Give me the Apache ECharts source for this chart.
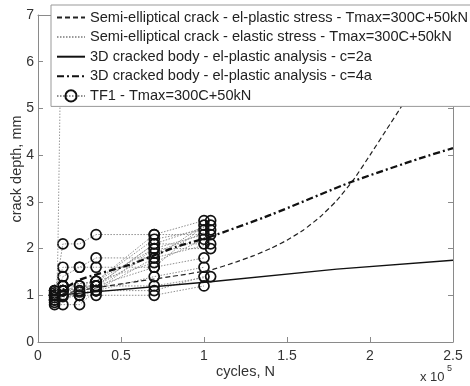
<!DOCTYPE html>
<html>
<head>
<meta charset="utf-8">
<script src="https://cdn.jsdelivr.net/npm/echarts@6/dist/echarts.min.js"></script>
<style>
html, body { margin: 0; padding: 0; background: #fff; }
#chart { width: 470px; height: 386px; }
</style>
</head>
<body>
<div id="chart"></div>
<script>
// Cycles are in units of 1e5, crack depth in mm.
const xTicks = [0, 0.5, 1, 1.5, 2, 2.5];
const yTicks = [0, 1, 2, 3, 4, 5, 6, 7];

const nameSemiPlastic = 'Semi-elliptical crack - el-plastic stress - Tmax=300C+50kN';
const nameSemiElastic = 'Semi-elliptical crack - elastic stress - Tmax=300C+50kN';
const name3D2a = '3D cracked body - el-plastic analysis - c=2a';
const name3D4a = '3D cracked body - el-plastic analysis - c=4a';
const nameTF1 = 'TF1 - Tmax=300C+50kN';

// Semi-elliptical crack, el-plastic stress
const semiPlasticX = [0.1, 0.3, 0.55, 0.8, 1.04, 1.2, 1.3, 1.4, 1.5, 1.6, 1.7, 1.8, 1.9, 2.0, 2.1, 2.2, 2.3, 2.4, 2.5];
const semiPlasticY = [1.0, 1.13, 1.27, 1.4, 1.54, 1.72, 1.85, 2.0, 2.18, 2.4, 2.68, 3.03, 3.47, 4.0, 4.55, 5.1, 5.7, 6.35, 7.0];

// Semi-elliptical crack, elastic stress
const semiElasticX = [0.1, 0.114, 0.12, 0.126, 0.133, 0.137];
const semiElasticY = [0.95, 1.1, 2.0, 3.5, 5.2, 7.0];

// 3D cracked body, c=2a
const body2aX = [0.1, 1.04, 1.8, 2.5];
const body2aY = [1.0, 1.29, 1.56, 1.75];

// 3D cracked body, c=4a
const body4aX = [0.1, 0.25, 0.55, 0.835, 1.036, 1.4, 1.89, 2.3, 2.5];
const body4aY = [1.0, 1.33, 1.65, 2.04, 2.25, 2.72, 3.43, 3.93, 4.15];

// TF1 test specimens: measured cycles and depths per specimen
const tf1Cycles = [
  [0.1, 0.15, 0.25, 0.35, 0.7, 1.0],
  [0.1, 0.15, 0.25, 0.35, 0.7, 1.04],
  [0.1, 0.15, 0.25, 0.35, 0.7, 1.0],
  [0.1, 0.15, 0.25, 0.35, 0.7, 1.0],
  [0.1, 0.15, 0.25, 0.35, 0.7, 1.04],
  [0.1, 0.15, 0.25, 0.35, 0.7, 1.0],
  [0.1, 0.15, 0.25, 0.35, 0.7, 1.0],
  [0.1, 0.15, 0.25, 0.35, 0.7, 1.04],
  [0.1, 0.15, 0.25, 0.35, 0.7, 1.0],
  [0.1, 0.15, 0.25, 0.35, 0.7, 1.0],
  [0.1, 0.15, 0.35, 0.7, 1.04],
  [0.1, 0.15, 0.35, 0.7, 1.0],
  [0.1, 0.15, 0.35, 0.7, 1.0],
  [0.1, 0.25, 0.35, 0.7, 1.04],
  [0.1, 0.15, 0.35, 0.7, 1.04],
  [0.1, 0.15, 0.35, 0.7, 1.04],
  [0.1, 0.15, 0.35, 0.7, 1.0]
];
const tf1Depths = [
  [1.0, 2.1, 2.1, 2.3, 2.3, 2.6],
  [1.1, 1.6, 1.6, 1.8, 1.8, 2.6],
  [0.9, 1.4, 1.6, 1.6, 1.6, 2.5],
  [1.0, 1.2, 1.2, 1.3, 2.2, 2.4],
  [1.1, 1.1, 1.1, 1.2, 2.1, 2.5],
  [0.8, 0.8, 0.8, 1.1, 2.0, 2.3],
  [0.9, 0.97, 1.0, 1.0, 1.0, 1.2],
  [1.0, 1.1, 1.2, 1.2, 1.9, 2.4],
  [1.05, 1.2, 1.07, 1.3, 1.7, 2.2],
  [0.85, 1.0, 1.0, 1.1, 1.4, 1.6],
  [1.0, 1.1, 1.2, 1.2, 1.4],
  [0.95, 1.0, 1.1, 1.1, 1.4],
  [1.0, 1.1, 1.2, 1.6, 1.8],
  [0.9, 1.0, 1.1, 1.8, 2.1],
  [1.0, 1.2, 1.3, 2.0, 2.0],
  [1.1, 1.2, 1.3, 2.3, 2.3],
  [1.0, 1.1, 1.2, 2.1, 2.1]
];

const zip = (xs, ys) => xs.map((x, i) => [x, ys[i]]);

const FONT = 'Liberation Sans, Arial, sans-serif';
const TEXT = '#333';
const AXIS_GRAY = '#8a8a8a';

const series = [];
tf1Cycles.forEach((xs, i) => {
  series.push({
    name: nameTF1,
    type: 'line',
    data: zip(xs, tf1Depths[i]),
    symbol: 'circle',
    symbolSize: 10,
    showAllSymbol: true,
    lineStyle: { color: '#8f8f8f', width: 1, type: [1.5, 1.5] },
    itemStyle: { color: 'rgba(255,255,255,0)', borderColor: '#111', borderWidth: 1.7 },
    emphasis: { disabled: true },
    z: 2
  });
});

function modelCurve(name, xs, ys, lineStyle, smooth) {
  return {
    name, type: 'line', data: zip(xs, ys),
    symbol: 'none', showSymbol: false, smooth: smooth || false,
    lineStyle, itemStyle: { color: lineStyle.color },
    emphasis: { disabled: true }, z: 3
  };
}
series.push(modelCurve(nameSemiElastic, semiElasticX, semiElasticY,
  { color: '#9a9a9a', width: 1, type: [1.5, 1.5] }));
series.push(modelCurve(nameSemiPlastic, semiPlasticX, semiPlasticY,
  { color: '#222', width: 1.2, type: [5, 3] }, 0.15));
series.push(modelCurve(name3D2a, body2aX, body2aY,
  { color: '#111', width: 1.3, type: 'solid' }));
series.push(modelCurve(name3D4a, body4aX, body4aY,
  { color: '#111', width: 2.3, type: [7, 3, 2, 3] }, 0.2));

// legend entries of the model curves show the line only
const lineOnly = { opacity: 0, borderWidth: 0 };

const axisCommon = {
  axisLine: { show: true, onZero: false, lineStyle: { color: AXIS_GRAY, width: 1 } },
  axisTick: { show: true, inside: true, length: 5, lineStyle: { color: AXIS_GRAY } },
  splitLine: { show: false }
};

const chart = echarts.init(document.getElementById('chart'), null, { renderer: 'canvas' });
chart.setOption({
  backgroundColor: '#fff',
  animation: false,
  grid: { left: 38, right: 17, top: 15, bottom: 44, containLabel: false, outerBoundsMode: 'none' },
  legend: {
    data: [
      { name: nameSemiPlastic, itemStyle: lineOnly },
      { name: nameSemiElastic, itemStyle: lineOnly },
      { name: name3D2a, itemStyle: lineOnly },
      { name: name3D4a, itemStyle: lineOnly },
      { name: nameTF1 }
    ],
    orient: 'vertical',
    left: 51, top: 5,
    padding: [5, 4, 3, 5],
    itemWidth: 28, itemHeight: 14, itemGap: 4.6,
    backgroundColor: '#fff',
    borderColor: '#999', borderWidth: 1,
    textStyle: { fontFamily: FONT, fontSize: 14.6, color: '#222', lineHeight: 14 },
    selectedMode: false,
    z: 10
  },
  xAxis: [
    Object.assign({
      type: 'value', position: 'bottom', min: 0, max: 2.5, interval: 0.5,
      axisLabel: { margin: 7, fontFamily: FONT, fontSize: 14, color: TEXT,
        formatter: v => xTicks.includes(v) ? String(v) : '' }
    }, axisCommon),
    Object.assign({
      type: 'value', position: 'top', min: 0, max: 2.5, interval: 0.5,
      axisLabel: { show: false }
    }, axisCommon)
  ],
  yAxis: [
    Object.assign({
      type: 'value', position: 'left', min: 0, max: 7, interval: 1,
      axisLabel: { margin: 4, fontFamily: FONT, fontSize: 14, color: TEXT,
        formatter: v => yTicks.includes(v) ? String(v) : '' }
    }, axisCommon),
    Object.assign({
      type: 'value', position: 'right', min: 0, max: 7, interval: 1,
      axisLabel: { show: false }
    }, axisCommon)
  ],
  graphic: [
    {
      type: 'text', x: 17, y: 169, rotation: Math.PI / 2, z: 20,
      style: { text: 'crack depth, mm', fontFamily: FONT, fontSize: 14.5, fill: TEXT,
        align: 'center', verticalAlign: 'middle' }
    },
    {
      type: 'text', x: 245.5, y: 372, z: 20,
      style: { text: 'cycles, N', fontFamily: FONT, fontSize: 14.5, fill: TEXT,
        align: 'center', verticalAlign: 'middle' }
    },
    {
      type: 'text', x: 420, y: 377, z: 20,
      style: { text: 'x 10', fontFamily: FONT, fontSize: 13, fill: TEXT,
        align: 'left', verticalAlign: 'middle' }
    },
    {
      type: 'text', x: 447, y: 369, z: 20,
      style: { text: '5', fontFamily: FONT, fontSize: 9, fill: TEXT,
        align: 'left', verticalAlign: 'middle' }
    }
  ],
  series: series
});
</script>
</body>
</html>
